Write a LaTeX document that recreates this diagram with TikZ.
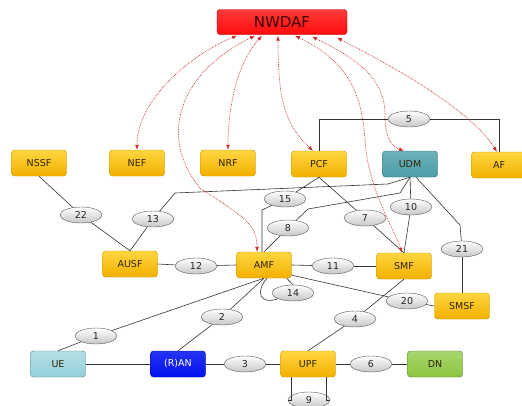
\documentclass[tikz,border=0pt]{standalone}
\usepackage{fontspec}
\setmainfont{DejaVu Sans}
\usetikzlibrary{arrows.meta,shapes.geometric,calc}
\definecolor{goldtop}{HTML}{FFD640}
\definecolor{goldbot}{HTML}{F2B000}
\definecolor{goldline}{HTML}{C99400}
\definecolor{udmc}{HTML}{4A9EA8}
\definecolor{uec}{HTML}{94D0DA}
\definecolor{ranc}{HTML}{0010F0}
\definecolor{dnc}{HTML}{8CC63F}
\definecolor{nwc}{HTML}{FF0A0A}
\definecolor{redarrow}{HTML}{D42A2A}
\definecolor{txtc}{HTML}{2E240A}
\tikzset{
  box/.style={rounded corners=3pt, draw=goldline, top color=goldtop, bottom color=goldbot,
    minimum width=55pt, minimum height=26pt, inner sep=0pt, font=\fontsize{9.5}{10}\selectfont, text=txtc},
  lbl/.style={ellipse, draw=black!65, top color=white, bottom color=black!22,
    minimum width=42pt, minimum height=16pt, inner sep=0pt, font=\fontsize{9.5}{10}\selectfont, text=black!85},
  conn/.style={draw=black!80, line width=0.6pt},
  nw/.style={draw=redarrow, densely dotted, line width=0.7pt,
    {Latex[length=5pt,width=4pt]}-{Latex[length=5pt,width=4pt]}}
}
\begin{document}
\begin{tikzpicture}[x=1pt,y=-1pt]
\useasboundingbox (0,0) rectangle (522,405);
% boxes
\node[box, draw=red!70!black, top color=nwc!80!white, bottom color=nwc, minimum width=130pt, minimum height=25pt,
  font=\fontsize{15}{16}\selectfont, text=red!25!black] (NWDAF) at (282,22) {NWDAF};
\node[box] (NSSF) at (39,163) {NSSF};
\node[box] (NEF) at (137,163) {NEF};
\node[box] (NRF) at (228,163) {NRF};
\node[box] (PCF) at (319,164) {PCF};
\node[box, draw=udmc!70!black, top color=udmc!80!white, bottom color=udmc] (UDM) at (410,164) {UDM};
\node[box] (AF) at (499,165) {AF};
\node[box] (AUSF) at (130,264) {AUSF};
\node[box] (AMF) at (264,265) {AMF};
\node[box] (SMF) at (404,266) {SMF};
\node[box] (SMSF) at (462,306) {SMSF};
\node[box, draw=uec!60!black, top color=uec!70!white, bottom color=uec] (UE) at (58,364) {UE};
\node[box, draw=ranc!60!black, top color=ranc!85!white, bottom color=ranc, text=white] (RAN) at (178,364) {(R)AN};
\node[box] (UPF) at (308,364) {UPF};
\node[box, draw=dnc!60!black, top color=dnc!75!white, bottom color=dnc] (DN) at (435,364) {DN};
% labels
\node[lbl] (e5) at (409,119) {5};
\node[lbl] (e22) at (81,215) {22};
\node[lbl] (e13) at (153,219) {13};
\node[lbl] (e15) at (285,199) {15};
\node[lbl] (e8) at (288,228) {8};
\node[lbl] (e7) at (365,218) {7};
\node[lbl] (e10) at (411,207) {10};
\node[lbl] (e21) at (462,249) {21};
\node[lbl] (e12) at (196,266) {12};
\node[lbl] (e11) at (333,266) {11};
\node[lbl] (e14) at (293,293) {14};
\node[lbl] (e20) at (407,301) {20};
\node[lbl] (e1) at (96,336) {1};
\node[lbl] (e2) at (222,317) {2};
\node[lbl] (e4) at (355,319) {4};
\node[lbl] (e3) at (245,364) {3};
\node[lbl] (e6) at (371,364) {6};
\node[lbl] (e9) at (309,400) {9};
% connectors
\begin{scope}[conn]
\draw (PCF.north) |- (e5);
\draw (e5) -| (AF.north);
\draw (NSSF.south) -- (e22);
\draw (e22) -- (AUSF.north);
\draw (AUSF.north) -- (e13);
\draw (e13) -- (175,193) -- (388,184) -- (UDM.south);
\draw (PCF.south) -- (e15);
\draw (e15) -- (262,210) -- ($(AMF.north)+(-2,0)$);
\draw (AMF.north) -- (e8);
\draw (e8) -- (308,209) -- (400,193) -- (UDM.south);
\draw (PCF.south) -- (e7);
\draw (e7) -- (SMF.north);
\draw (UDM.south) -- (e10);
\draw (e10) -- (SMF.north);
\draw ($(UDM.south)+(6,0)$) -- (460,225) -- (e21);
\draw (e21) -- (SMSF.north);
\draw (AUSF.east) -- (e12);
\draw (e12) -- (AMF.west);
\draw (AMF.east) -- (e11);
\draw (e11) -- (SMF.west);
\draw ($(AMF.south east)+(0,-3)$) -- (e20);
\draw (e20) -- (SMSF.west);
\draw ($(AMF.south)+(3,0)$) .. controls (255,292) and (260,305) .. (e14.south west);
\draw ($(AMF.south east)+(-5,0)$) -- (e14.north);
\draw (UE.north) -- (e1);
\draw (e1) -- (AMF.south);
\draw (RAN.north) -- (e2);
\draw (e2) -- (AMF.south);
\draw (UE.east) -- (RAN.west);
\draw (RAN.east) -- (e3);
\draw (e3) -- (UPF.west);
\draw (UPF.north) -- (e4);
\draw (e4) -- (SMF.south);
\draw (UPF.east) -- (e6);
\draw (e6) -- (DN.west);
\draw ($(UPF.south west)+(11,0)$) |- (e9);
\draw (e9) -| ($(UPF.south east)+(-9,0)$);
\end{scope}
% NWDAF red dotted arrows
\draw[nw] ($(NWDAF.south)+(-45,1)$) .. controls (190,55) and (137,100) .. (NEF.north);
\draw[nw] ($(NWDAF.south)+(-27,1)$) .. controls (175,75) and (160,140) .. (200,188) .. controls (240,215) and (257,222) .. ($(AMF.north)+(-7,0)$);
\draw[nw] ($(NWDAF.south)+(-20,1)$) .. controls (240,60) and (228,100) .. (NRF.north);
\draw[nw] ($(NWDAF.south)+(-4,1)$) .. controls (278,100) and (285,125) .. ($(PCF.north)+(-6,0)$);
\draw[nw] ($(NWDAF.south)+(13,1)$) .. controls (345,60) and (362,90) .. (365,140) .. controls (368,190) and (395,230) .. ($(SMF.north)+(-2,0)$);
\draw[nw] ($(NWDAF.south)+(30,2)$) .. controls (360,60) and (385,80) .. (385,115) .. controls (385,140) and (393,147) .. ($(UDM.north)+(-6,0)$);
\draw[nw] ($(NWDAF.south)+(55,3)$) .. controls (400,70) and (470,110) .. ($(AF.north)+(-2,0)$);
\end{tikzpicture}
\end{document}
